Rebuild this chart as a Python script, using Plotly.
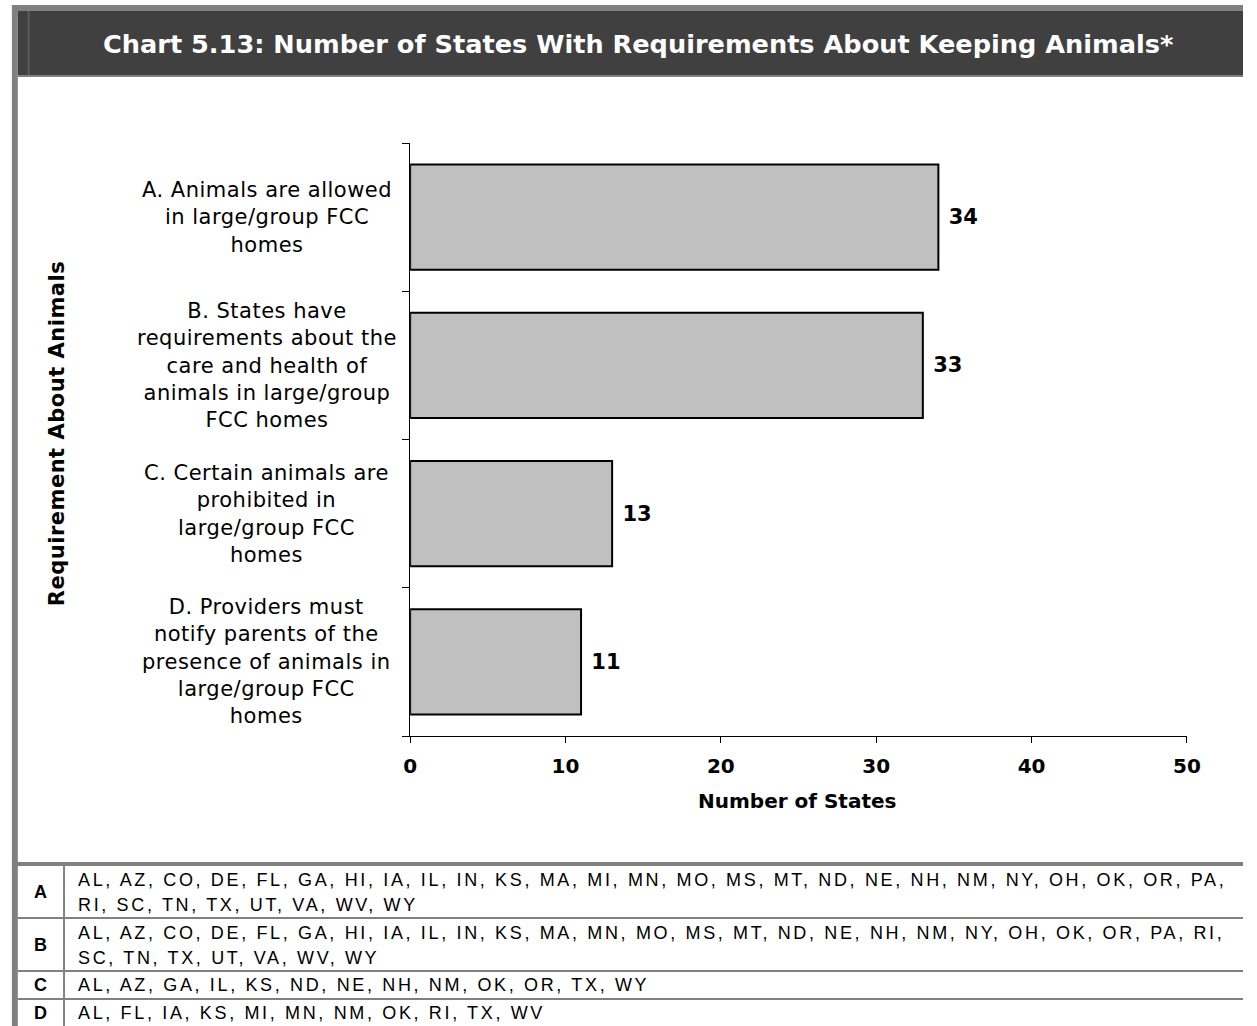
import plotly.graph_objects as go

W, H = 1257, 1026

# ---------------- data ----------------
title_text = "Chart 5.13: Number of States With Requirements About Keeping Animals*"
category_codes = ["A", "B", "C", "D"]
category_labels = [
    "A. Animals are allowed<br>in large/group FCC<br>homes",
    "B. States have<br>requirements about the<br>care and health of<br>animals in large/group<br>FCC homes",
    "C. Certain animals are<br>prohibited in<br>large/group FCC<br>homes",
    "D. Providers must<br>notify parents of the<br>presence of animals in<br>large/group FCC<br>homes",
]
state_counts = [34, 33, 13, 11]
x_tick_values = [0, 10, 20, 30, 40, 50]
x_title = "Number of States"
y_title = "Requirement About Animals"
table_codes = ["A", "B", "C", "D"]
table_states = [
    ["AL, AZ, CO, DE, FL, GA, HI, IA, IL, IN, KS, MA, MI, MN, MO, MS, MT, ND, NE, NH, NM, NY, OH, OK, OR, PA,",
     "RI, SC, TN, TX, UT, VA, WV, WY"],
    ["AL, AZ, CO, DE, FL, GA, HI, IA, IL, IN, KS, MA, MN, MO, MS, MT, ND, NE, NH, NM, NY, OH, OK, OR, PA, RI,",
     "SC, TN, TX, UT, VA, WV, WY"],
    ["AL, AZ, GA, IL, KS, ND, NE, NH, NM, OK, OR, TX, WY"],
    ["AL, FL, IA, KS, MI, MN, NM, OK, RI, TX, WV"],
]

# ---------------- helpers ----------------
def px(x):
    return x / W

def py(y):
    return 1 - y / H

def spaced(s, ls):
    return '<span style="letter-spacing:%spx">%s</span>' % (ls, s)

GRAY = "#808080"
DARK = "#404040"

fig = go.Figure()

fig.add_trace(go.Bar(
    x=state_counts,
    y=category_labels,
    orientation="h",
    marker=dict(color="#C0C0C0", line=dict(color="black", width=2)),
    text=state_counts,
    texttemplate=" %{x}",
    textposition="outside",
    textfont=dict(family="DejaVu Sans", size=21, color="black", weight="bold"),
    cliponaxis=False,
    hoverinfo="skip",
))

shapes = []
def rect(x0, y0, x1, y1, color):
    shapes.append(dict(type="rect", xref="paper", yref="paper",
                       x0=px(x0), x1=px(x1), y0=py(y1), y1=py(y0),
                       fillcolor=color, line=dict(width=0), layer="below"))

# frame and header
rect(5, 5, W, 11, GRAY)
rect(5, 5, 11, H, GRAY)
rect(11, 11, W, 75, DARK)
rect(21, 11, 23, 75, "#5c5c5c")
rect(11, 75, W, 77, GRAY)
# table lines
rect(5, 862, W, 866, GRAY)
rect(11, 917, W, 919, GRAY)
rect(11, 970, W, 972, GRAY)
rect(11, 998, W, 1000, GRAY)
rect(57, 866, 59, H, GRAY)

annotations = []
annotations.append(dict(
    text="<b>" + title_text + "</b>", xref="paper", yref="paper",
    x=px(642), y=py(44), xanchor="center", yanchor="middle", showarrow=False,
    font=dict(family="DejaVu Sans", size=25.6, color="white"),
))

# category labels (centered, left of axis)
for lab in category_labels:
    annotations.append(dict(
        text="<br>".join(spaced(l, 0.5) for l in lab.split("<br>")),
        xref="paper", yref="y", x=px(264), y=lab,
        xanchor="center", yanchor="middle", align="center", showarrow=False,
        font=dict(family="DejaVu Sans", size=21, color="black"),
    ))

annotations.append(dict(
    text="<b>" + spaced(y_title, 0.5) + "</b>", xref="paper", yref="paper",
    x=px(51), y=py(434), xanchor="center", yanchor="middle",
    textangle=-90, showarrow=False,
    font=dict(family="DejaVu Sans", size=21, color="black"),
))
annotations.append(dict(
    text="<b>" + x_title + "</b>", xref="paper", yref="paper",
    x=px(803), y=py(801), xanchor="center", yanchor="middle", showarrow=False,
    font=dict(family="DejaVu Sans", size=20, color="black"),
))

# table
row_centers = [892, 945, 985, 1013]
for code, lines, yc in zip(table_codes, table_states, row_centers):
    annotations.append(dict(
        text="<b>" + code + "</b>", xref="paper", yref="paper",
        x=px(34), y=py(yc), xanchor="center", yanchor="middle", showarrow=False,
        font=dict(family="Liberation Sans", size=18, color="black"),
    ))
    n = len(lines)
    for i, l in enumerate(lines):
        off = (i - (n - 1) / 2) * 25
        annotations.append(dict(
            text=spaced(l, 2.65),
            xref="paper", yref="paper",
            x=px(70), y=py(yc + off), xanchor="left", yanchor="middle", align="left",
            showarrow=False,
            font=dict(family="Liberation Sans", size=18, color="black"),
        ))

fig.update_layout(
    width=W, height=H,
    autosize=False,
    margin=dict(l=0, r=0, t=0, b=0),
    paper_bgcolor="white", plot_bgcolor="white",
    showlegend=False,
    bargap=0.29,
    shapes=shapes,
    annotations=annotations,
    xaxis=dict(
        domain=[px(410), px(1200)], range=[0, 50],
        tickvals=x_tick_values, ticks="outside", ticklen=6, tickcolor="black",
        showline=True, linecolor="black", linewidth=1,
        showgrid=False, zeroline=False, ticklabelstandoff=6,
        tickfont=dict(family="DejaVu Sans", size=20, color="black", weight="bold"),
        fixedrange=True,
    ),
    yaxis=dict(
        domain=[py(736), py(143)],
        categoryorder="array", categoryarray=category_labels[::-1],
        range=[-0.5, 3.5],
        tickson="boundaries", ticks="outside", ticklen=7, tickcolor="black",
        showline=True, linecolor="black", linewidth=1,
        showticklabels=False, showgrid=False, zeroline=False,
        fixedrange=True,
    ),
)

post = (
    "document.body.style.margin='0px';"
    "document.body.style.overflow='hidden';"
    "document.documentElement.style.overflow='hidden';"
)
fig.write_html("out.html", post_script=post,
               config={"displayModeBar": False, "responsive": False},
               default_width="1257px", default_height="1026px")
